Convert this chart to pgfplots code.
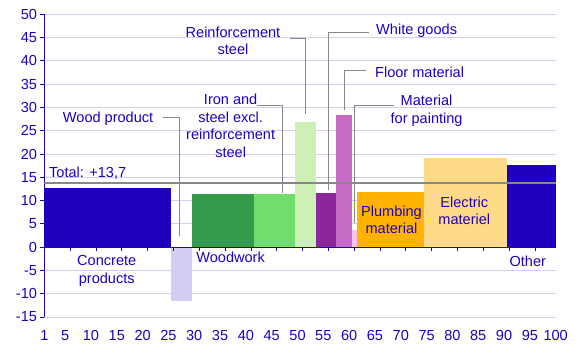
\documentclass[border=0pt]{standalone}
\usepackage{pgfplots}
\pgfplotsset{compat=1.18}
\usepackage{fontspec}
\setmainfont{Liberation Sans}
\definecolor{sblue}{HTML}{1E00BE}
\definecolor{gridc}{HTML}{D2CEF2}
\definecolor{cwoodp}{HTML}{D1CDF0}
\definecolor{cwoodw}{HTML}{339B49}
\definecolor{ciron}{HTML}{71DE6C}
\definecolor{creinf}{HTML}{CDF0B7}
\definecolor{cwhite}{HTML}{8B2899}
\definecolor{cfloor}{HTML}{C76CC6}
\definecolor{cpaint}{HTML}{F0C5EC}
\definecolor{cplumb}{HTML}{FFB300}
\definecolor{celec}{HTML}{FFDB87}
\definecolor{leadc}{HTML}{888888}
\begin{document}
\begin{tikzpicture}[lbl/.style={text=sblue, font=\fontsize{14.6}{17.6}\selectfont, align=center, inner sep=0pt},
  lead/.style={draw=leadc, line width=1bp}]
\begin{axis}[name=ax, scale only axis, width=511.2bp, height=302.7bp,
  xmin=1, xmax=100, ymin=-15, ymax=50,
  xtick={1,5,10,...,100}, ytick={-15,-10,...,50},
  axis y line*=left, axis x line*=bottom,
  x axis line style={draw=none},
  y axis line style={draw=sblue, line width=1.2bp, -},
  xtick style={draw=none},
  ytick style={draw=sblue, line width=1bp},
  tick align=outside, major tick length=4bp,
  ymajorgrids, grid style={draw=gridc, line width=1bp},
  every tick label/.append style={font=\fontsize{14.6}{17}\selectfont, text=sblue},
  /pgf/number format/assume math mode=true,
  xticklabel style={yshift=-6bp},
  clip=false]
% bars: (x0,0)(x0,y)(x1,y)(x1,0)
\addplot[fill=sblue, draw=none] coordinates {(1,0) (1,12.7) (25.44,12.7) (25.44,0)} -- cycle;
\addplot[fill=cwoodp, draw=none] coordinates {(25.44,0) (25.44,-11.5) (29.56,-11.5) (29.56,0)} -- cycle;
\addplot[fill=cwoodw, draw=none] coordinates {(29.56,0) (29.56,11.44) (41.57,11.44) (41.57,0)} -- cycle;
\addplot[fill=ciron, draw=none] coordinates {(41.57,0) (41.57,11.44) (49.5,11.44) (49.5,0)} -- cycle;
\addplot[fill=creinf, draw=none] coordinates {(49.5,0) (49.5,26.9) (53.6,26.9) (53.6,0)} -- cycle;
\addplot[fill=cwhite, draw=none] coordinates {(53.6,0) (53.6,11.65) (57.45,11.65) (57.45,0)} -- cycle;
\addplot[fill=cfloor, draw=none] coordinates {(57.45,0) (57.45,28.4) (60.55,28.4) (60.55,0)} -- cycle;
\addplot[fill=cpaint, draw=none] coordinates {(60.55,0) (60.55,3.7) (61.5,3.7) (61.5,0)} -- cycle;
\addplot[fill=cplumb, draw=none] coordinates {(61.5,0) (61.5,11.87) (74.5,11.87) (74.5,0)} -- cycle;
\addplot[fill=celec, draw=none] coordinates {(74.5,0) (74.5,19.16) (90.5,19.16) (90.5,0)} -- cycle;
\addplot[fill=sblue, draw=none] coordinates {(90.5,0) (90.5,17.66) (100,17.66) (100,0)} -- cycle;
% total line
\addplot[draw=leadc, line width=2bp] coordinates {(1,13.7) (100,13.7)};
% zero line and ticks
\draw[sblue, line width=1.2bp] (axis cs:1,0) -- (axis cs:100,0);
\pgfplotsinvokeforeach{6,11,16,21,26,31,36,41,46,51,56,61,66,71,76,81,86,91,96}{
  \draw[sblue, line width=1bp] (axis cs:#1,0) -- ([yshift=-4bp]axis cs:#1,0);
}
% leader lines
\draw[lead] (axis cs:23.95,27.8) -- (axis cs:27.05,27.8) -- (axis cs:27.05,2.4);
\draw[lead] (axis cs:48.5,44.85) -- (axis cs:51.6,44.85) -- (axis cs:51.6,28.5);
\draw[lead] (axis cs:42.1,30.4) -- (axis cs:47.1,30.4) -- (axis cs:47.1,11.6);
\draw[lead] (axis cs:63.9,46.1) -- (axis cs:55.96,46.1) -- (axis cs:55.96,12.3);
\draw[lead] (axis cs:63.26,38.0) -- (axis cs:59.05,38.0) -- (axis cs:59.05,29.5);
\draw[lead] (axis cs:68.7,30.5) -- (axis cs:61.0,30.5) -- (axis cs:61.0,5.15);
% labels
\node[lbl, anchor=east] at (axis cs:22.1,27.5) {Wood product};
\node[lbl] at (axis cs:37.5,44.3) {Reinforcement\\steel};
\node[lbl] at (axis cs:37.05,26.1) {Iron and\\steel excl.\\reinforcement\\steel};
\node[lbl, anchor=west] at (axis cs:65.2,46.4) {White goods};
\node[lbl, anchor=west] at (axis cs:65.0,37.55) {Floor material};
\node[lbl] at (axis cs:75.0,29.3) {Material\\for painting};
\node[lbl] at (axis cs:13.05,-5.15) {Concrete\\products};
\node[lbl] at (axis cs:37.05,-2.23) {Woodwork};
\node[lbl] at (axis cs:68.2,5.86) {Plumbing\\material};
\node[lbl] at (axis cs:82.3,7.83) {Electric\\materiel};
\node[lbl] at (axis cs:94.6,-3.1) {Other};
\node[lbl, anchor=west] at (axis cs:1.87,15.9) {Total: +13,7};
\end{axis}
\pgfresetboundingbox
\path ([xshift=-44.5bp,yshift=-40bp]ax.south west) rectangle ([xshift=29.3bp,yshift=14.3bp]ax.north east);
\end{tikzpicture}
\end{document}
